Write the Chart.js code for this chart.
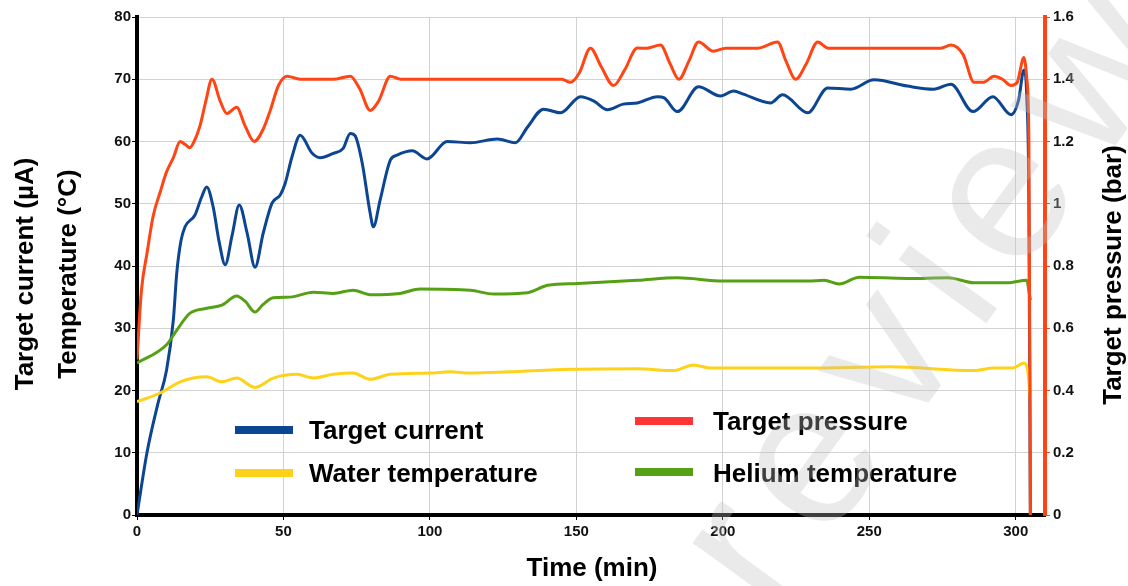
<!DOCTYPE html>
<html>
<head>
<meta charset="utf-8">
<script src="https://cdn.jsdelivr.net/npm/chart.js@4.4.1/dist/chart.umd.min.js"></script>
<style>
  body { margin: 0; background: #fff; }
  #wrap { width: 1128px; height: 586px; position: relative; }
</style>
</head>
<body>
<div id="wrap"><canvas id="myChart"></canvas></div>
<script>
// Target current (uA), left axis
const currentTime = [0, 3.4, 7.2, 10.1, 12.4, 13.6, 15, 16.4, 19.8, 22, 23.8, 26, 28, 30.1, 32.5, 34.9, 37.6, 40.3, 43.1, 46.1, 48.9, 50.6, 52.9, 55.7, 59.8, 62.5, 67, 70.4, 72.8, 74.5, 76.9, 79.6, 80.7, 83, 86.5, 88.8, 94, 99, 105.9, 113.8, 123, 129.2, 133.3, 138.8, 144.6, 151.4, 156, 160.6, 166, 170.8, 177.7, 180, 184.5, 191.7, 199.2, 203.7, 207, 216.3, 220.4, 229, 235.8, 243.7, 251.6, 263, 272, 277.9, 285.4, 292.2, 298.4, 301, 302.8, 303.8, 304.5, 305];
const currentVal = [0, 10, 18, 23.3, 31.3, 39, 44, 46.3, 48.2, 51, 52.7, 49.5, 44, 40.2, 45, 49.8, 45.3, 39.8, 45.3, 50.1, 51.4, 53.3, 57.5, 61, 58.1, 57.4, 58.1, 58.9, 61.3, 60.9, 56.5, 48.5, 46.3, 50.6, 57, 57.8, 58.5, 57.2, 60, 59.8, 60.4, 59.8, 62.3, 65.2, 64.6, 67.2, 66.5, 65.1, 66, 66.2, 67.2, 67, 64.8, 68.8, 67.3, 68.1, 67.6, 66.2, 67.5, 64.6, 68.6, 68.4, 69.9, 68.9, 68.4, 69.2, 64.8, 67.2, 64.3, 66.7, 71.5, 67, 50, 0];

// Water temperature (°C), left axis
const waterTime = [0, 7.9, 14.7, 19.2, 23.8, 29, 34, 40.3, 46.5, 54.6, 60.2, 67, 73.8, 79.6, 86.5, 100, 107, 113.8, 127, 148, 171, 183, 190, 195.8, 229, 257, 285.7, 292.6, 299, 302.8, 304, 305];
const waterVal = [18.2, 19.6, 21.4, 22, 22.2, 21.4, 22, 20.5, 22, 22.6, 22, 22.6, 22.8, 21.8, 22.6, 22.8, 23, 22.8, 23, 23.4, 23.5, 23.2, 24.1, 23.6, 23.6, 23.8, 23.2, 23.6, 23.6, 24.4, 23.5, 18.5];

// Helium temperature (°C), left axis
const heliumTime = [0, 10, 13.6, 18, 23.8, 29, 34, 37, 40.3, 43, 46.5, 52.3, 60.2, 67, 73.8, 79.6, 89.8, 96.6, 113.8, 121.8, 133.3, 140.2, 150.5, 170.8, 184.5, 200.3, 229, 234.6, 239.7, 246.6, 263, 276.8, 285.8, 297.2, 303.8, 304.5, 305];
const heliumVal = [24.4, 27.3, 29.7, 32.4, 33.2, 33.7, 35.2, 34.3, 32.6, 33.8, 34.9, 35, 35.8, 35.6, 36.1, 35.4, 35.6, 36.3, 36.1, 35.5, 35.7, 36.9, 37.2, 37.7, 38.1, 37.6, 37.6, 37.7, 37.1, 38.2, 38, 38.1, 37.3, 37.3, 37.7, 36, 34.5];

// Target pressure (bar), right axis
const pressureTime = [0, 1.5, 3.4, 5.5, 8, 10, 12.5, 14.7, 16.5, 18, 19.5, 21.5, 23.5, 25.6, 28.4, 30.7, 34, 36.9, 40, 43.1, 45.5, 48.3, 51.2, 55.7, 60, 67, 72.8, 76, 79.6, 82.5, 86.5, 90, 100, 120, 140, 145, 148, 151, 154.8, 158.5, 162.7, 166.5, 170.8, 174, 178.7, 182, 185, 188.5, 191.7, 196.8, 201, 206, 212, 218.7, 221.5, 224.9, 228.5, 232.4, 236, 239.6, 250, 265, 274.4, 277.9, 282, 285.8, 289, 292.6, 295.5, 298.4, 300.5, 302.8, 303.8, 304.5, 305];
const pressureBar = [0.50, 0.72, 0.84, 0.96, 1.04, 1.10, 1.15, 1.20, 1.19, 1.18, 1.20, 1.25, 1.33, 1.40, 1.33, 1.29, 1.31, 1.25, 1.20, 1.24, 1.30, 1.38, 1.41, 1.40, 1.40, 1.40, 1.41, 1.37, 1.30, 1.33, 1.41, 1.40, 1.40, 1.40, 1.40, 1.40, 1.39, 1.42, 1.50, 1.44, 1.38, 1.43, 1.50, 1.50, 1.51, 1.45, 1.40, 1.46, 1.52, 1.49, 1.50, 1.50, 1.50, 1.52, 1.46, 1.40, 1.45, 1.52, 1.50, 1.50, 1.50, 1.50, 1.50, 1.51, 1.48, 1.39, 1.39, 1.41, 1.40, 1.38, 1.39, 1.47, 1.40, 1.20, 0];

const xTicks = [0, 50, 100, 150, 200, 250, 300];
const legendNames = ['Target current', 'Water temperature', 'Target pressure', 'Helium temperature'];

const colBlue = '#0c4592';
const colOrange = '#ff4514';
const colYellow = '#ffd21a';
const colGreen = '#55a014';

function toPoints(xs, ys) {
  return xs.map((x, i) => ({ x: x, y: ys[i] }));
}

Chart.defaults.font.family = 'Arial, "Liberation Sans", sans-serif';
Chart.defaults.color = '#111';

// titles, in-plot legend and the watermark
const extrasPlugin = {
  id: 'extras',
  afterDraw(chart) {
    const ctx = chart.ctx;
    ctx.save();
    ctx.fillStyle = '#000';
    ctx.font = 'bold 26px Arial, "Liberation Sans", sans-serif';
    ctx.textBaseline = 'alphabetic';
    ctx.textAlign = 'center';

    // axis titles
    ctx.save();
    ctx.translate(33, 274);
    ctx.rotate(-Math.PI / 2);
    ctx.fillText('Target current (µA)', 0, 0);
    ctx.restore();
    ctx.save();
    ctx.translate(76, 274);
    ctx.rotate(-Math.PI / 2);
    ctx.fillText('Temperature (°C)', 0, 0);
    ctx.restore();
    ctx.save();
    ctx.translate(1121, 275);
    ctx.rotate(-Math.PI / 2);
    ctx.fillText('Target pressure (bar)', 0, 0);
    ctx.restore();
    ctx.fillText('Time (min)', 592, 576);

    // legend
    const items = [
      { c: colBlue, x: 235, y: 430, tx: 309, ty: 439 },
      { c: colYellow, x: 235, y: 473, tx: 309, ty: 482 },
      { c: '#ff3535', x: 635, y: 421, tx: 713, ty: 430 },
      { c: colGreen, x: 635, y: 472, tx: 713, ty: 482 }
    ];
    ctx.textAlign = 'left';
    items.forEach((it, i) => {
      ctx.fillStyle = it.c;
      ctx.fillRect(it.x, it.y - 4, 58, 8);
      ctx.fillStyle = '#000';
      ctx.fillText(legendNames[i], it.tx, it.ty);
    });

    // watermark
    ctx.save();
    ctx.translate(772, 618);
    ctx.rotate(-54 * Math.PI / 180);
    ctx.font = '205px Arial, "Liberation Sans", sans-serif';
    ctx.letterSpacing = '22px';
    ctx.fillStyle = 'rgba(190,190,190,0.33)';
    ctx.fillText('review', 0, 0);
    ctx.restore();

    ctx.restore();
  }
};

const ctx = document.getElementById('myChart').getContext('2d');
const myChart = new Chart(ctx, {
  type: 'line',
  data: {
    datasets: [
      {
        label: 'Target pressure',
        data: toPoints(pressureTime, pressureBar),
        yAxisID: 'y1',
        borderColor: colOrange,
        borderWidth: 3,
        pointRadius: 0,
        cubicInterpolationMode: 'monotone'
      },
      {
        label: 'Helium temperature',
        data: toPoints(heliumTime, heliumVal),
        yAxisID: 'y',
        borderColor: colGreen,
        borderWidth: 3,
        pointRadius: 0,
        cubicInterpolationMode: 'monotone'
      },
      {
        label: 'Water temperature',
        data: toPoints(waterTime, waterVal),
        yAxisID: 'y',
        borderColor: colYellow,
        borderWidth: 3,
        pointRadius: 0,
        cubicInterpolationMode: 'monotone'
      },
      {
        label: 'Target current',
        data: toPoints(currentTime, currentVal),
        yAxisID: 'y',
        borderColor: colBlue,
        borderWidth: 3,
        pointRadius: 0,
        cubicInterpolationMode: 'monotone'
      }
    ]
  },
  options: {
    responsive: true,
    maintainAspectRatio: false,
    animation: false,
    layout: { padding: { top: 17 } },
    plugins: {
      legend: { display: false },
      tooltip: { enabled: false }
    },
    scales: {
      x: {
        type: 'linear',
        min: 0,
        max: 310,
        afterBuildTicks: s => { s.ticks = xTicks.map(v => ({ value: v })); },
        afterFit: s => { s.height = 71; },
        ticks: { font: { size: 15, weight: 'bold' }, padding: 3, maxRotation: 0 },
        grid: { color: '#d2d2d2', tickColor: '#000', tickLength: 5, lineWidth: 1 },
        border: { color: '#000', width: 4 }
      },
      y: {
        position: 'left',
        min: 0,
        max: 80,
        ticks: { stepSize: 10, font: { size: 15, weight: 'bold' }, padding: 1 },
        afterFit: s => { s.width = 137; },
        grid: { color: '#d2d2d2', tickColor: '#000', tickLength: 5, lineWidth: 1 },
        border: { color: '#000', width: 4 }
      },
      y1: {
        position: 'right',
        min: 0,
        max: 1.6,
        ticks: {
          stepSize: 0.2,
          font: { size: 15, weight: 'bold' },
          padding: 3,
          callback: v => String(+v.toFixed(1))
        },
        afterFit: s => { s.width = 83; },
        grid: { drawOnChartArea: false, tickColor: colOrange, tickLength: 5 },
        border: { color: colOrange, width: 4 }
      }
    }
  },
  plugins: [extrasPlugin]
});
</script>
</body>
</html>
